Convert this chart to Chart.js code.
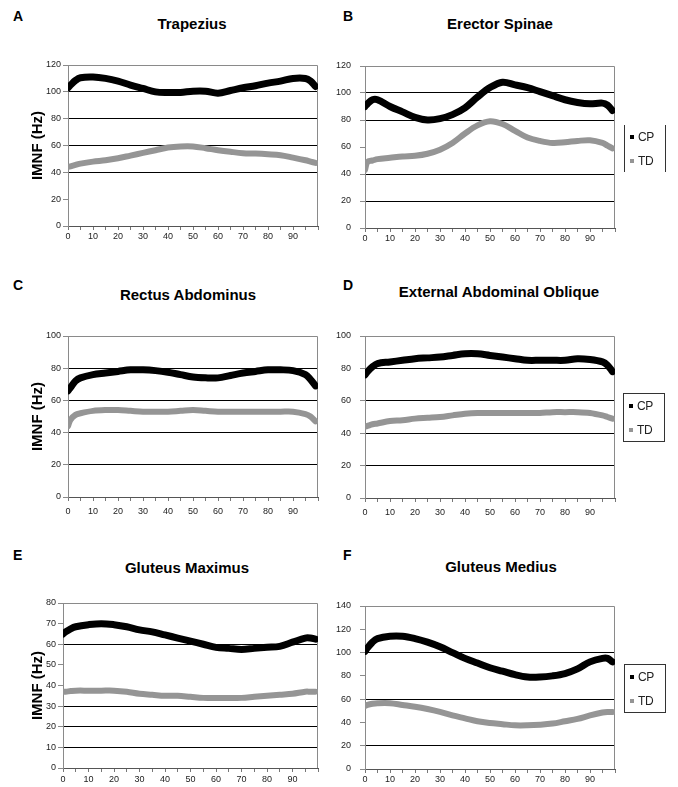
<!DOCTYPE html>
<html>
<head>
<meta charset="utf-8">
<title>IMNF by muscle</title>
<script src="https://cdn.jsdelivr.net/npm/chart.js@4.4.0/dist/chart.umd.min.js"></script>
<style>
    body { margin: 0; background: #fff; }
    #page { position: relative; width: 678px; height: 787px; overflow: hidden;
            font-family: "Liberation Sans", Arial, sans-serif; color: #000; }
    .letter { position: absolute; font-weight: bold; font-size: 14px; line-height: 16px; }
    .title { position: absolute; width: 300px; text-align: center; font-weight: bold;
             font-size: 15px; line-height: 18px; }
    canvas { position: absolute; }
    .legend { position: absolute; width: 40px; height: 47px; }
    .legend .item { position: absolute; left: 0; width: 40px; height: 16px; }
    .legend .swatch { position: absolute; left: 5px; top: 6px; width: 4px; height: 4px; }
    .legend .label { position: absolute; left: 13px; top: 0; font-size: 12px; line-height: 16px;
                     color: #222; letter-spacing: -0.3px; }
</style>
</head>
<body>
<div id="page"></div>
<script>
// percent of cycle (x positions of the read-off points)
const cycle = [0, 1, 3, 5, 10, 15, 20, 25, 30, 35, 40, 45, 50, 55, 60, 65, 70, 75, 80, 85, 90, 95, 97, 99];
const seriesNames = ['CP', 'TD'];

// A - Trapezius
const trapeziusCP = [103, 105, 108.5, 110.5, 111, 110, 108, 105, 102.5, 100, 99.5, 99.5, 100.5, 100.5, 99, 101, 103, 104.5, 106.5, 108, 110, 110, 108, 104];
const trapeziusTD = [44, 44.5, 45.5, 46.5, 48, 49, 50.5, 52.5, 54.5, 56.5, 58.5, 59.3, 59.3, 58, 56.5, 55.3, 54.3, 54, 53.5, 52.8, 51, 49, 48, 47];

// B - Erector Spinae
const erectorCP = [90, 92, 95, 95, 90, 86, 82, 80, 81, 84, 89, 97, 104, 108, 106, 104, 101, 98, 95, 93, 92, 92.5, 91, 87];
const erectorTD = [43, 49, 50, 51, 52, 53, 53.5, 55, 58, 63, 70, 76, 79, 77, 72, 67, 64.5, 63, 63.5, 64.5, 65, 63, 61, 59];

// C - Rectus Abdominus
const rectusCP = [66, 68, 72, 74, 76, 77, 78, 79, 79, 78.5, 77.5, 76, 74.5, 74, 74, 75.5, 77, 78, 79, 79, 78.5, 76, 73, 69];
const rectusTD = [44, 48, 51, 52, 53.5, 54, 54, 53.5, 53, 53, 53, 53.5, 54, 53.5, 53, 53, 53, 53, 53, 53, 53, 51.5, 50, 47];

// D - External Abdominal Oblique
const obliqueCP = [76, 78, 81, 83, 84, 85, 86, 86.5, 87, 88, 89, 89, 88, 87, 86, 85, 85, 85, 85, 86, 85.5, 84, 82, 78];
const obliqueTD = [44, 44.5, 45.5, 46, 47.5, 48, 49, 49.5, 50, 51, 52, 52.5, 52.5, 52.5, 52.5, 52.5, 52.5, 53, 53, 53, 52.5, 51, 50, 49];

// E - Gluteus Maximus
const gluteusMaxCP = [65, 66, 67.5, 68.5, 69.5, 70, 69.5, 68.5, 67, 66, 64.5, 63, 61.5, 60, 58.5, 58, 57.5, 58, 58.5, 59, 61, 63, 63, 62.5];
const gluteusMaxTD = [37, 37, 37.3, 37.5, 37.5, 37.5, 37.5, 37, 36, 35.5, 35, 35, 34.5, 34, 34, 34, 34, 34.5, 35, 35.5, 36, 37, 37, 37];

// F - Gluteus Medius
const gluteusMedCP = [101, 104, 109, 112, 114, 114, 112, 109, 105, 100, 95, 91, 87, 84, 81, 79, 79, 80, 82, 86, 92, 95, 95, 92];
const gluteusMedTD = [54, 55, 56, 56.5, 56.5, 55, 53.5, 51.5, 49, 46, 43.5, 41, 39.5, 38.5, 37.5, 37.5, 38, 39, 41, 43, 46, 48.5, 49, 49];

Chart.defaults.font.family = '"Liberation Sans", Arial, sans-serif';
Chart.defaults.color = '#222';

const CP_COLOR = '#000000';
const TD_COLOR = '#959595';
const FRAME_COLOR = '#8a8a8a';

// gray box round the plot area (top and right sides; left/bottom are axes)
const plotFrame = {
    id: 'plotFrame',
    beforeDatasetsDraw(chart) {
        const { ctx, chartArea: a } = chart;
        ctx.save();
        ctx.strokeStyle = FRAME_COLOR;
        ctx.lineWidth = 1;
        ctx.beginPath();
        ctx.moveTo(Math.round(a.left), Math.round(a.top) + 0.5);
        ctx.lineTo(Math.round(a.right) - 0.5, Math.round(a.top) + 0.5);
        ctx.lineTo(Math.round(a.right) - 0.5, Math.round(a.bottom));
        ctx.stroke();
        ctx.restore();
    }
};

const panels = [
    { letter: 'A', name: 'Trapezius', cp: trapeziusCP, td: trapeziusTD, yMax: 120, yStep: 20, grid: [40, 60, 80, 100],
      box: [0, 40, 330, 220], pad: [25, 12, 14, 0], yW: 68, xH: 20, yPad: 2, xPad: 1, yTitle: true,
      letterPos: [13, 8], titlePos: [192, 24] },
    { letter: 'B', name: 'Erector Spinae', cp: erectorCP, td: erectorTD, yMax: 120, yStep: 20, grid: [20, 40, 80, 100],
      box: [330, 40, 348, 220], pad: [26, 63, 12, 0], yW: 35, xH: 20, yPad: 9, xPad: 1, yTitle: false,
      letterPos: [343, 8], titlePos: [500, 24], legend: [624, 125, 'sides'] },
    { letter: 'C', name: 'Rectus Abdominus', cp: rectusCP, td: rectusTD, yMax: 100, yStep: 20, grid: [20, 40, 60, 80],
      box: [0, 310, 330, 220], pad: [26, 12, 13, 0], yW: 68, xH: 20, yPad: 2, xPad: 5, yTitle: true,
      letterPos: [13, 277], titlePos: [188, 295] },
    { letter: 'D', name: 'External Abdominal Oblique', cp: obliqueCP, td: obliqueTD, yMax: 100, yStep: 20, grid: [20, 40, 60, 80],
      box: [330, 310, 348, 220], pad: [26, 63, 12, 0], yW: 35, xH: 20, yPad: 9, xPad: 5, yTitle: false,
      letterPos: [343, 277], titlePos: [499, 292], legend: [623, 393, 'full'] },
    { letter: 'E', name: 'Gluteus Maximus', cp: gluteusMaxCP, td: gluteusMaxTD, yMax: 80, yStep: 10, grid: [10, 20, 30, 60],
      box: [0, 580, 330, 207], pad: [23, 12, 0, 0], yW: 63, xH: 19, yPad: 2, xPad: 2, yTitle: true,
      letterPos: [13, 547], titlePos: [187, 568] },
    { letter: 'F', name: 'Gluteus Medius', cp: gluteusMedCP, td: gluteusMedTD, yMax: 140, yStep: 20, grid: [20, 60, 100],
      box: [330, 580, 348, 207], pad: [26, 63, 0, 0], yW: 35, xH: 18, yPad: 9, xPad: 1, yTitle: false,
      letterPos: [343, 547], titlePos: [501, 567], legend: [624, 664, 'full'] }
];

const page = document.getElementById('page');

function addText(cls, text, left, top) {
    const el = document.createElement('div');
    el.className = cls;
    el.textContent = text;
    el.style.left = left + 'px';
    el.style.top = top + 'px';
    page.appendChild(el);
    return el;
}

function addLegend(chart, pos) {
    const [left, top, style] = pos;
    const box = document.createElement('div');
    box.className = 'legend';
    box.style.left = left + 'px';
    box.style.top = top + 'px';
    box.style.borderLeft = '1px solid #333';
    box.style.borderRight = '1px solid #333';
    if (style === 'full') {
        box.style.borderTop = '1px solid #333';
        box.style.borderBottom = '1px solid #333';
    }
    chart.data.datasets.forEach((ds, i) => {
        const item = document.createElement('div');
        item.className = 'item';
        item.style.top = (4 + i * 24) + 'px';
        item.innerHTML = '<span class="swatch"></span><span class="label"></span>';
        item.querySelector('.swatch').style.background = ds.borderColor;
        item.querySelector('.label').textContent = ds.label;
        box.appendChild(item);
    });
    page.appendChild(box);
}

function seriesPoints(values) {
    return cycle.map((x, i) => ({ x: x, y: values[i] }));
}

function makePanel(p) {
    addText('letter', p.letter, p.letterPos[0], p.letterPos[1]);
    addText('title', p.name, p.titlePos[0] - 150, p.titlePos[1] - 9);

    const [left, top, w, h] = p.box;
    const canvas = document.createElement('canvas');
    canvas.width = w;
    canvas.height = h;
    canvas.style.left = left + 'px';
    canvas.style.top = top + 'px';
    canvas.style.width = w + 'px';
    canvas.style.height = h + 'px';
    page.appendChild(canvas);

    const chart = new Chart(canvas.getContext('2d'), {
        type: 'line',
        data: {
            datasets: [
                { label: seriesNames[0], data: seriesPoints(p.cp), borderColor: CP_COLOR, backgroundColor: CP_COLOR, borderWidth: 7 },
                { label: seriesNames[1], data: seriesPoints(p.td), borderColor: TD_COLOR, backgroundColor: TD_COLOR, borderWidth: 6 }
            ]
        },
        options: {
            responsive: false,
            animation: false,
            events: [],
            layout: { padding: { top: p.pad[0], right: p.pad[1], bottom: p.pad[2], left: p.pad[3] } },
            elements: {
                line: { tension: 0.35, borderCapStyle: 'round', borderJoinStyle: 'round' },
                point: { radius: 0 }
            },
            plugins: {
                legend: { display: false },
                tooltip: { enabled: false }
            },
            scales: {
                x: {
                    type: 'linear',
                    min: 0,
                    max: 100,
                    ticks: {
                        stepSize: 5,
                        autoSkip: false,
                        maxRotation: 0,
                        padding: p.xPad,
                        font: { size: 9 },
                        callback: function(value) {
                            return (value % 10 === 0 && value < 100) ? value : '';
                        }
                    },
                    grid: { drawOnChartArea: false, color: '#777', tickLength: 4 },
                    border: { color: '#555' },
                    afterFit: function(scale) { scale.height = p.xH; }
                },
                y: {
                    min: 0,
                    max: p.yMax,
                    ticks: { stepSize: p.yStep, padding: p.yPad, font: { size: 9 } },
                    grid: {
                        color: function(ctx) {
                            return (ctx.tick && p.grid.includes(ctx.tick.value)) ? '#000' : 'rgba(0,0,0,0)';
                        },
                        tickColor: FRAME_COLOR,
                        tickLength: 5
                    },
                    border: { color: FRAME_COLOR },
                    title: {
                        display: p.yTitle,
                        text: 'IMNF (Hz)',
                        color: '#000',
                        font: { size: 15, weight: 'bold' },
                        padding: { top: 29, bottom: 0 }
                    },
                    afterFit: function(scale) { scale.width = p.yW; }
                }
            }
        },
        plugins: [plotFrame]
    });

    if (p.legend) addLegend(chart, p.legend);
    return chart;
}

panels.forEach(makePanel);
</script>
</body>
</html>
